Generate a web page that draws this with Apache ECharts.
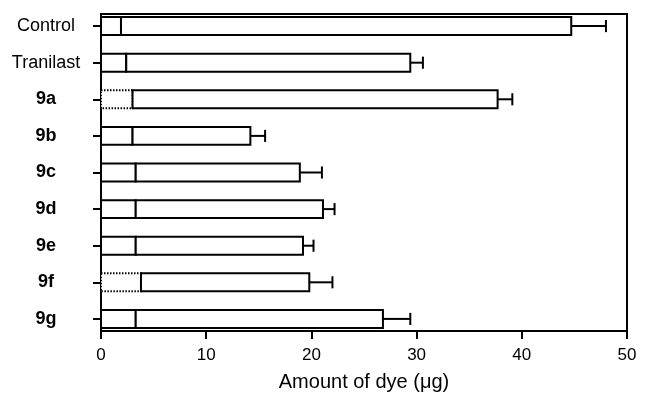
<!DOCTYPE html>
<html>
<head>
<meta charset="utf-8">
<script src="https://cdn.jsdelivr.net/npm/echarts@6/dist/echarts.min.js"></script>
<style>html,body{margin:0;padding:0;background:#fff;}#c{width:664px;height:397px;}</style>
</head>
<body>
<div id="c"></div>
<script>
// Data
const categories = ['Control', 'Tranilast', '9a', '9b', '9c', '9d', '9e', '9f', '9g'];
const baseValues = [1.9, 2.4, 3.0, 3.0, 3.3, 3.3, 3.3, 3.8, 3.3];      // inner segment (μg)
const totalValues = [44.7, 29.4, 37.7, 14.2, 18.9, 21.1, 19.2, 19.8, 26.8]; // bar end (μg)
const errorValues = [48.0, 30.6, 39.1, 15.6, 21.0, 22.2, 20.2, 22.0, 29.4]; // error bar end (μg)
const dottedBase = [false, false, true, false, false, false, false, true, false];
const xTicks = [0, 10, 20, 30, 40, 50];
const xTitle = 'Amount of dye (\u03bcg)';

const FONT = 'Liberation Sans, Arial, Helvetica, sans-serif';
const idx = categories.map((_, i) => i);
const data = categories.map((c, i) => [i, baseValues[i], totalValues[i], errorValues[i], dottedBase[i] ? 1 : 0]);

const chart = echarts.init(document.getElementById('c'), null, {renderer: 'canvas'});
chart.setOption({
  animation: false,
  backgroundColor: '#fff',
  grid: {left: 101, right: 37, top: 14, bottom: 63, show: true, borderColor: '#000', borderWidth: 2, backgroundColor: 'transparent'},
  xAxis: {
    type: 'value', min: xTicks[0], max: xTicks[xTicks.length - 1], interval: 10,
    axisLine: {show: true, onZero: false, lineStyle: {color: '#000', width: 2}},
    axisTick: {show: true, length: 8, lineStyle: {color: '#000', width: 2}},
    splitLine: {show: false},
    axisLabel: {color: '#000', fontFamily: FONT, fontSize: 17, margin: 16},
    name: xTitle, nameLocation: 'middle', nameGap: 41,
    nameTextStyle: {color: '#000', fontFamily: FONT, fontSize: 20}
  },
  yAxis: {
    type: 'value', inverse: true, min: -0.33, max: 8.33,
    axisLine: {show: true, onZero: false, lineStyle: {color: '#000', width: 2}},
    axisTick: {show: true, length: 8, customValues: idx, lineStyle: {color: '#000', width: 2}},
    splitLine: {show: false},
    axisLabel: {
      customValues: idx, margin: 55, align: 'center',
      formatter: function (v) {
        const name = categories[Math.round(v)];
        return /^\d/.test(name) ? '{b|' + name + '}' : '{n|' + name + '}';
      },
      rich: {
        n: {color: '#000', fontFamily: FONT, fontSize: 18},
        b: {color: '#000', fontFamily: FONT, fontSize: 18, fontWeight: 'bold'}
      }
    }
  },
  series: [{
    type: 'custom',
    clip: false,
    encode: {x: [1, 2, 3], y: 0},
    data: data,
    renderItem: function (params, api) {
      const i = api.value(0);
      const p0 = api.coord([0, i]);
      const pb = api.coord([api.value(1), i]);
      const pt = api.coord([api.value(2), i]);
      const pe = api.coord([api.value(3), i]);
      const h = api.size([0, 0.49])[1];
      const cap = api.size([0, 0.33])[1];
      const dotted = api.value(4) === 1;
      const y = p0[1];
      return {
        type: 'group',
        children: [
          {type: 'line', shape: {x1: pt[0], y1: y, x2: pe[0], y2: y}, style: {stroke: '#000', lineWidth: 2}},
          {type: 'line', shape: {x1: pe[0], y1: y - cap / 2, x2: pe[0], y2: y + cap / 2}, style: {stroke: '#000', lineWidth: 2}},
          {type: 'rect', shape: {x: p0[0], y: y - h / 2, width: pb[0] - p0[0], height: h},
            style: {fill: '#fff', stroke: '#000', lineWidth: 2, lineDash: dotted ? [1.5, 1.5] : null}},
          {type: 'rect', shape: {x: pb[0], y: y - h / 2, width: pt[0] - pb[0], height: h},
            style: {fill: '#fff', stroke: '#000', lineWidth: 2}}
        ]
      };
    }
  }]
});
</script>
</body>
</html>
